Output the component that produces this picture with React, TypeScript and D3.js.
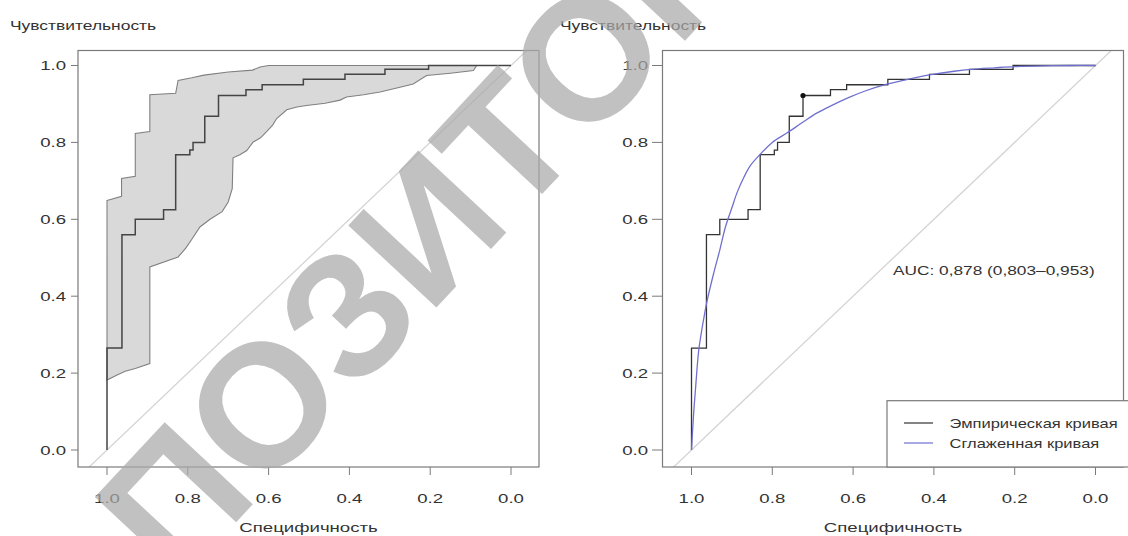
import React from 'react';
import * as d3 from 'd3';

// ---------- data ----------
const xTickValues = [1.0, 0.8, 0.6, 0.4, 0.2, 0.0];
const yTickValues = [0.0, 0.2, 0.4, 0.6, 0.8, 1.0];

// empirical ROC corners (specificity, sensitivity)
const empSpec = [1.0, 1.0, 0.963, 0.93, 0.86, 0.83, 0.795, 0.787, 0.758, 0.724, 0.656, 0.616, 0.514, 0.411, 0.312, 0.204, 0.0];
const empSens = [0.0, 0.265, 0.56, 0.6, 0.625, 0.768, 0.78, 0.8, 0.868, 0.922, 0.937, 0.95, 0.964, 0.977, 0.99, 1.0, 1.0];

// CI band for sensitivity
const ciUpperSpec = [1.0, 0.964, 0.964, 0.93, 0.93, 0.894, 0.894, 0.83, 0.824, 0.79, 0.76, 0.7, 0.64, 0.621, 0.6, 0.085];
const ciUpperSens = [0.649, 0.66, 0.706, 0.712, 0.823, 0.828, 0.924, 0.928, 0.961, 0.968, 0.975, 0.983, 0.988, 0.996, 1.0, 1.0];
const ciLowerSpec = [1.0, 0.975, 0.955, 0.93, 0.894, 0.894, 0.824, 0.805, 0.79, 0.77, 0.745, 0.715, 0.7, 0.69, 0.688, 0.671, 0.654, 0.638, 0.62, 0.605, 0.59, 0.58, 0.555, 0.53, 0.506, 0.46, 0.423, 0.407, 0.365, 0.324, 0.28, 0.242, 0.209, 0.15, 0.093, 0.085];
const ciLowerSens = [0.182, 0.195, 0.205, 0.212, 0.225, 0.476, 0.502, 0.525, 0.548, 0.58, 0.6, 0.62, 0.645, 0.68, 0.76, 0.768, 0.779, 0.801, 0.812, 0.828, 0.845, 0.862, 0.885, 0.892, 0.896, 0.902, 0.91, 0.918, 0.924, 0.931, 0.942, 0.952, 0.974, 0.98, 0.987, 1.0];

// smoothed (binormal) curve
const smoothSpec = [1.0, 0.995, 0.99, 0.982, 0.97, 0.961, 0.945, 0.93, 0.916, 0.9, 0.887, 0.87, 0.854, 0.829, 0.8, 0.763, 0.721, 0.69, 0.655, 0.61, 0.572, 0.514, 0.46, 0.407, 0.35, 0.308, 0.25, 0.2, 0.13, 0.06, 0.0];
const smoothSens = [0.0, 0.09, 0.16, 0.26, 0.34, 0.39, 0.46, 0.52, 0.58, 0.63, 0.67, 0.71, 0.74, 0.77, 0.8, 0.825, 0.855, 0.876, 0.895, 0.917, 0.933, 0.952, 0.965, 0.976, 0.985, 0.99, 0.994, 0.997, 0.999, 1.0, 1.0];

const bestSpec = [0.724];
const bestSens = [0.922];

const yTitle = 'Чувствительность';
const xTitle = 'Специфичность';
const aucLabel = 'AUC: 0,878 (0,803–0,953)';
const legendLabels = ['Эмпирическая кривая', 'Сглаженная кривая'];
const watermark = 'ПОЗИТОРИЙ';

// ---------- layout ----------
const W = 1128;
const H = 536;
const BOX_W = 461;
const Y_TOP = 50.5;
const Y_BOT = 467;
const FONT = "'Liberation Sans', Arial, sans-serif";
const TXT = '#333';
const SMOOTH_COLOR = '#6f6fcf';

const yScale = d3.scaleLinear().domain([0, 1]).range([450, 65.5]);
const makeX = (ox: number) => d3.scaleLinear().domain([1, 0]).range([ox + 29, ox + 433]);

function T({ x, y, anchor = 'start', size = 13.5, sx = 1.38, fill = TXT, children }: any) {
  return (
    <text
      transform={`translate(${x},${y}) scale(${sx},1)`}
      textAnchor={anchor}
      dy="0.35em"
      fontSize={size}
      fill={fill}
      fontFamily={FONT}
    >
      {children}
    </text>
  );
}

function Frame({ ox, yLabX, tickX0, yTitleX, id, children }: any) {
  const x = makeX(ox);
  const diag = d3.line<number>().x((d) => x(d)).y((d) => yScale(1 - d));
  return (
    <g>
      <defs>
        <clipPath id={id}>
          <rect x={ox} y={Y_TOP} width={BOX_W} height={Y_BOT - Y_TOP} />
        </clipPath>
      </defs>
      <g clipPath={`url(#${id})`}>
        <path d={diag([1.2, -0.2]) || ''} stroke="#d4d4d4" strokeWidth={1.3} fill="none" />
        {children(x)}
      </g>
      <rect x={ox} y={Y_TOP} width={BOX_W} height={Y_BOT - Y_TOP} fill="none" stroke="#7a7a7a" strokeWidth={1.2} />
      {yTickValues.map((v) => (
        <g key={'y' + v}>
          <line x1={tickX0} x2={ox} y1={yScale(v)} y2={yScale(v)} stroke="#7a7a7a" strokeWidth={1} />
          <T x={yLabX} y={yScale(v)} anchor="end">{v.toFixed(1)}</T>
        </g>
      ))}
      {xTickValues.map((v) => (
        <g key={'x' + v}>
          <line x1={x(v)} x2={x(v)} y1={Y_BOT} y2={Y_BOT + 8} stroke="#7a7a7a" strokeWidth={1} />
          <T x={x(v)} y={498} anchor="middle">{v.toFixed(1)}</T>
        </g>
      ))}
      <T x={ox + BOX_W / 2} y={527} anchor="middle">{xTitle}</T>
      <T x={yTitleX} y={25} size={13} sx={1.34}>{yTitle}</T>
    </g>
  );
}

export default function App() {
  const empPts = empSpec.map((s, i) => [s, empSens[i]] as [number, number]);
  const upperPts = ciUpperSpec.map((s, i) => [s, ciUpperSens[i]] as [number, number]);
  const lowerPts = ciLowerSpec.map((s, i) => [s, ciLowerSens[i]] as [number, number]);
  const bandPts = upperPts.concat(lowerPts.slice().reverse());
  const smoothPts = smoothSpec.map((s, i) => [s, smoothSens[i]] as [number, number]);

  return (
    <svg width={W} height={H} style={{ position: 'absolute', left: 0, top: 0, background: '#fff' }}>
      <rect x={0} y={0} width={W} height={H} fill="#fff" />
      <Frame ox={78} yLabX={66} tickX0={71} yTitleX={10} id="clipL">
        {(x: any) => {
          const step = d3.line<[number, number]>().x((d) => x(d[0])).y((d) => yScale(d[1])).curve(d3.curveStepAfter);
          const lin = d3.line<[number, number]>().x((d) => x(d[0])).y((d) => yScale(d[1]));
          return (
            <g>
              <path d={(lin(bandPts) || '') + 'Z'} fill="#d9d9d9" stroke="#808080" strokeWidth={1.1} />
              <path d={step(empPts) || ''} fill="none" stroke="#444" strokeWidth={1.5} />
            </g>
          );
        }}
      </Frame>
      <Frame ox={662.5} yLabX={648} tickX0={652} yTitleX={560} id="clipR">
        {(x: any) => {
          const step = d3.line<[number, number]>().x((d) => x(d[0])).y((d) => yScale(d[1])).curve(d3.curveStepAfter);
          const smooth = d3.line<[number, number]>().x((d) => x(d[0])).y((d) => yScale(d[1])).curve(d3.curveCatmullRom.alpha(0.5));
          return (
            <g>
              <path d={step(empPts) || ''} fill="none" stroke="#333" strokeWidth={1.3} />
              <path d={smooth(smoothPts) || ''} fill="none" stroke={SMOOTH_COLOR} strokeWidth={1.3} />
              {bestSpec.map((s, i) => (
                <circle key={i} cx={x(s)} cy={yScale(bestSens[i])} r={2.6} fill="#111" />
              ))}
            </g>
          );
        }}
      </Frame>
      <T x={893} y={270} size={13} sx={1.33}>{aucLabel}</T>
      <g>
        <rect x={887} y={400.7} width={260} height={Y_BOT - 400.7} fill="#fff" stroke="#7a7a7a" strokeWidth={1.2} />
        <line x1={904} x2={933} y1={423} y2={423} stroke="#333" strokeWidth={1.2} />
        <line x1={904} x2={933} y1={443} y2={443} stroke={SMOOTH_COLOR} strokeWidth={1.2} />
        <T x={949.5} y={423} size={13} sx={1.27}>{legendLabels[0]}</T>
        <T x={949.5} y={443} size={13} sx={1.27}>{legendLabels[1]}</T>
      </g>
      <g transform="translate(172,500) rotate(-47)" opacity={0.72}>
        <text x={-62} y={62} fontSize={175} fontWeight="bold" fontFamily={FONT} fill="#aaaaaa">
          {watermark}
        </text>
      </g>
    </svg>
  );
}
